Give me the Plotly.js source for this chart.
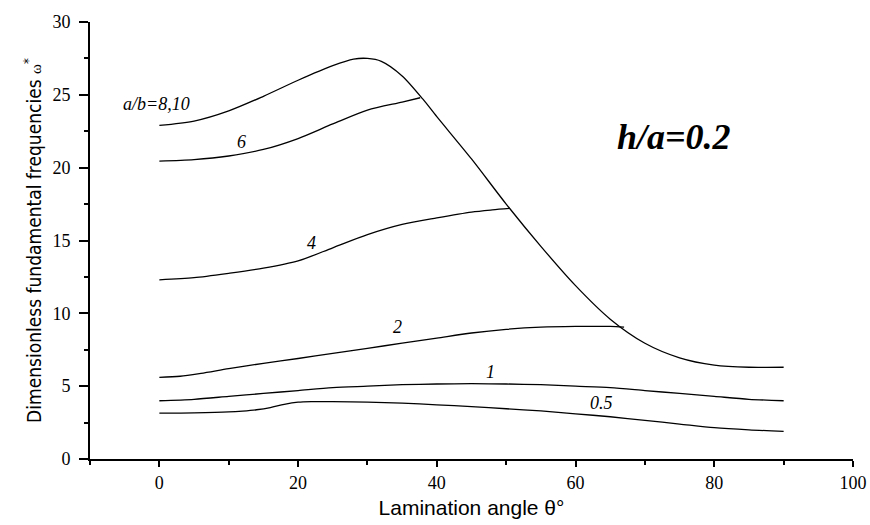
<!DOCTYPE html>
<html>
<head>
<meta charset="utf-8">
<script src="https://cdn.plot.ly/plotly-3.0.1.min.js"></script>
<style>html,body{margin:0;padding:0;background:#fff;}#chart{width:870px;height:525px;}</style>
</head>
<body>
<div id="chart"></div>
<script>
// a/b = 8,10 (envelope)
const x_ab810 = [0, 5, 10, 15, 20, 25, 28, 30, 32, 35, 38, 40, 45, 50, 55, 60, 65, 70, 75, 80, 85, 90];
const y_ab810 = [22.9, 23.2, 23.9, 24.9, 26.0, 27.0, 27.45, 27.5, 27.3, 26.3, 24.7, 23.5, 20.6, 17.5, 14.6, 11.9, 9.6, 7.95, 6.95, 6.45, 6.3, 6.3];
// a/b = 6
const x_ab6 = [0, 5, 10, 15, 20, 25, 30, 35, 37.6];
const y_ab6 = [20.45, 20.55, 20.8, 21.25, 22.0, 23.0, 23.95, 24.5, 24.8];
// a/b = 4
const x_ab4 = [0, 5, 10, 15, 20, 25, 30, 35, 40, 45, 48, 50.5];
const y_ab4 = [12.3, 12.45, 12.75, 13.1, 13.6, 14.5, 15.4, 16.1, 16.55, 16.95, 17.1, 17.2];
// a/b = 2
const x_ab2 = [0, 3, 6, 10, 15, 20, 25, 30, 35, 40, 45, 50, 55, 60, 65, 67];
const y_ab2 = [5.6, 5.68, 5.88, 6.2, 6.57, 6.9, 7.25, 7.6, 7.95, 8.3, 8.65, 8.9, 9.05, 9.1, 9.1, 9.05];
// a/b = 1
const x_ab1 = [0, 5, 10, 15, 20, 25, 30, 35, 40, 45, 50, 55, 60, 65, 70, 75, 80, 85, 90];
const y_ab1 = [4.0, 4.1, 4.3, 4.5, 4.7, 4.9, 5.0, 5.1, 5.15, 5.17, 5.15, 5.1, 5.0, 4.9, 4.7, 4.5, 4.3, 4.1, 4.0];
// a/b = 0.5
const x_ab05 = [0, 5, 10, 12, 14, 16, 18, 20, 22, 25, 30, 35, 40, 45, 50, 55, 60, 65, 70, 75, 80, 85, 90];
const y_ab05 = [3.15, 3.17, 3.23, 3.29, 3.38, 3.53, 3.75, 3.9, 3.94, 3.94, 3.9, 3.83, 3.72, 3.6, 3.45, 3.3, 3.1, 2.9, 2.65, 2.4, 2.15, 2.0, 1.9];

const curveNames = ['a/b=8,10', 'a/b=6', 'a/b=4', 'a/b=2', 'a/b=1', 'a/b=0.5'];
const curveX = [x_ab810, x_ab6, x_ab4, x_ab2, x_ab1, x_ab05];
const curveY = [y_ab810, y_ab6, y_ab4, y_ab2, y_ab1, y_ab05];

// curve labels
const labelText = ['a/b=8,10', '6', '4', '2', '1', '0.5'];
const labelX = [-0.4, 11.9, 22, 34.3, 47.7, 63.8];
const labelY = [24.4, 21.75, 14.8, 9.05, 5.95, 3.85];

const traces = curveX.map((xs, i) => ({
  type: 'scatter', mode: 'lines', name: curveNames[i],
  x: xs, y: curveY[i],
  line: {color: '#000', width: 1.3, shape: 'spline', smoothing: 0.8},
  showlegend: false, hoverinfo: 'skip'
}));

const annotations = labelText.map((t, i) => ({
  x: labelX[i], y: labelY[i], xref: 'x', yref: 'y', text: t, showarrow: false,
  font: {family: 'Liberation Serif', size: 18, color: '#000', style: 'italic'},
  xanchor: 'center', yanchor: 'middle'
}));
annotations.push({
  x: 74.2, y: 22.1, xref: 'x', yref: 'y', text: '<b><i>h/a=0.2</i></b>', showarrow: false,
  font: {family: 'Liberation Serif', size: 36, color: '#000'},
  xanchor: 'center', yanchor: 'middle'
});

const tickFont = {family: 'Liberation Serif, Times New Roman, serif', size: 18, color: '#000'};
const layout = {
  width: 870, height: 525,
  margin: {l: 90, r: 17, t: 22, b: 66},
  paper_bgcolor: '#fff', plot_bgcolor: '#fff',
  showlegend: false,
  xaxis: {
    range: [-10, 100], tickmode: 'array', tickvals: [0, 20, 40, 60, 80, 100],
    showgrid: false, zeroline: false, showline: true, linecolor: '#000', linewidth: 2,
    ticks: 'outside', ticklen: 6, tickwidth: 2, tickcolor: '#000',
    minor: {tickmode: 'array', tickvals: [-10, 10, 30, 50, 70, 90], ticks: 'outside', ticklen: 4, tickwidth: 2, tickcolor: '#000', showgrid: false},
    tickfont: tickFont,
    title: {text: 'Lamination angle θ°', font: {family: 'Liberation Sans', size: 21, color: '#000'}, standoff: 9}
  },
  yaxis: {
    range: [0, 30], tickmode: 'array', tickvals: [0, 5, 10, 15, 20, 25, 30],
    showgrid: false, zeroline: false, showline: true, linecolor: '#000', linewidth: 2,
    ticks: 'outside', ticklen: 9, tickwidth: 2, tickcolor: '#000', ticklabelstandoff: 5,
    minor: {tickmode: 'array', tickvals: [2.5, 7.5, 12.5, 17.5, 22.5, 27.5], ticks: 'outside', ticklen: 4, tickwidth: 2, tickcolor: '#000', showgrid: false},
    tickfont: tickFont,
    title: {text: 'Dimensionless fundamental frequencies <span style="font-family:Liberation Serif;font-size:15px">ω</span><sup>*</sup>', font: {family: 'Liberation Sans Narrow, DejaVu Sans Condensed, Liberation Sans, sans-serif', size: 19, color: '#000'}, standoff: 6}
  },
  annotations: annotations
};

Plotly.newPlot('chart', traces, layout, {staticPlot: true, displayModeBar: false});
</script>
</body>
</html>
